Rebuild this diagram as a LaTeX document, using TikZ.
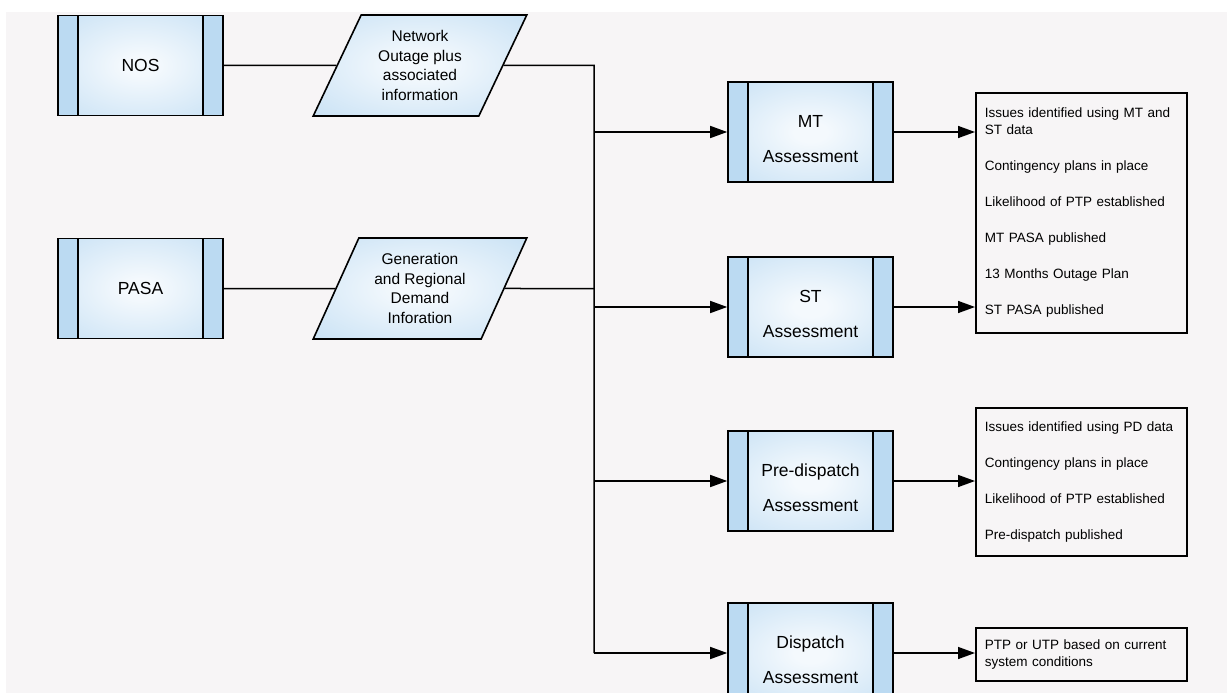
\documentclass[tikz,border=0pt]{standalone}
\usepackage{fontspec}
\setmainfont{Liberation Sans}
\usetikzlibrary{arrows.meta,shapes.geometric}

\definecolor{bgcol}{HTML}{F7F5F6}
\definecolor{boxblue}{HTML}{BBDAF2}
\definecolor{boxcenter}{HTML}{F4F9FD}
\pgfdeclareradialshading{glow}{\pgfpoint{0bp}{0bp}}{color(0bp)=(boxcenter); color(5bp)=(boxcenter); color(46bp)=(boxblue); color(60bp)=(boxblue)}

\tikzset{
  procbox/.style={draw, line width=1.6pt, fill=boxblue, minimum width=165pt,
    minimum height=100pt, inner sep=0pt,
    path picture={
      \shade[shading=glow] ([xshift=20pt]path picture bounding box.south west)
        rectangle ([xshift=-20pt]path picture bounding box.north east);
      \draw[line width=1.6pt] ([xshift=20pt]path picture bounding box.south west)
        -- ([xshift=20pt]path picture bounding box.north west);
      \draw[line width=1.6pt] ([xshift=-20pt]path picture bounding box.south east)
        -- ([xshift=-20pt]path picture bounding box.north east);
    }},
  boxlbl/.style={align=center, font=\fontsize{17.5}{35}\selectfont, yshift=-7pt},
  datashape/.style={draw, line width=1.6pt, shape=trapezium, trapezium left angle=64,
    trapezium right angle=116, trapezium stretches=true, minimum width=214pt,
    minimum height=101pt, inner sep=0pt, shading=glow, align=center,
    font=\fontsize{15.5}{19.5}\selectfont},
  notebox/.style={draw, line width=1.6pt, fill=bgcol, text width=193pt, inner xsep=9pt,
    inner ysep=4pt, align=left, anchor=north west, font=\fontsize{13.5}{17}\selectfont},
  conn/.style={line width=1.5pt},
  arr/.style={line width=1.5pt, -{Triangle[length=17pt,width=12pt]}}
}

\begin{document}
\begin{tikzpicture}[x=1pt,y=-1pt]

  \useasboundingbox (0,0) rectangle (1227,693);
  \fill[bgcol] (6,12) rectangle (1227,693);

  % sources
  \node[procbox, label={[boxlbl, yshift=7pt]center:NOS}] (nos) at (140.5,65.5) {};
  \node[procbox, label={[boxlbl, yshift=7pt]center:PASA}] (pasa) at (140.5,288.5) {};

  \node[datashape] (netinfo) at (420,65.5) {Network\\Outage plus\\associated\\information};
  \node[datashape] (geninfo) at (420,288.5) {Generation\\and Regional\\Demand\\Inforation};

  % assessments
  \node[procbox, label={[boxlbl]center:MT\\Assessment}] (mt) at (810.5,132) {};
  \node[procbox, label={[boxlbl]center:ST\\Assessment}] (st) at (810.5,307) {};
  \node[procbox, label={[boxlbl]center:Pre-dispatch\\Assessment}] (pd) at (810.5,481) {};
  \node[procbox, label={[boxlbl]center:Dispatch\\Assessment}] (disp) at (810.5,653) {};

  % outcomes
  \node[notebox, minimum height=240pt] (tb1) at (975,92) {Issues identified using MT and\\ST data\\[19pt]Contingency plans in place\\[19pt]Likelihood of PTP established\\[19pt]MT PASA published\\[19pt]13 Months Outage Plan\\[19pt]ST PASA published};
  \node[notebox, minimum height=148pt] (tb2) at (975,407) {Issues identified using PD data\\[19pt]Contingency plans in place\\[19pt]Likelihood of PTP established\\[19pt]Pre-dispatch published};
  \node[notebox, minimum height=53pt] (tb3) at (975,627) {PTP or UTP based on current\\system conditions};

  \coordinate (trunktop) at (594,65.5);
  \coordinate (trunkbot) at (594,653);

  \draw[conn] (nos) -- (netinfo);
  \draw[conn] (pasa) -- (geninfo);
  \draw[conn] (netinfo) -- (trunktop) -- (trunkbot);
  \draw[conn] (geninfo) -- (geninfo -| trunktop);

  \draw[arr] (mt -| trunktop) -- (mt);
  \draw[arr] (st -| trunktop) -- (st);
  \draw[arr] (pd -| trunktop) -- (pd);
  \draw[arr] (trunkbot) -- (disp);

  \draw[arr] (mt) -- (mt -| tb1.west);
  \draw[arr] (st) -- (st -| tb1.west);
  \draw[arr] (pd) -- (pd -| tb2.west);
  \draw[arr] (disp) -- (disp -| tb3.west);

\end{tikzpicture}
\end{document}
